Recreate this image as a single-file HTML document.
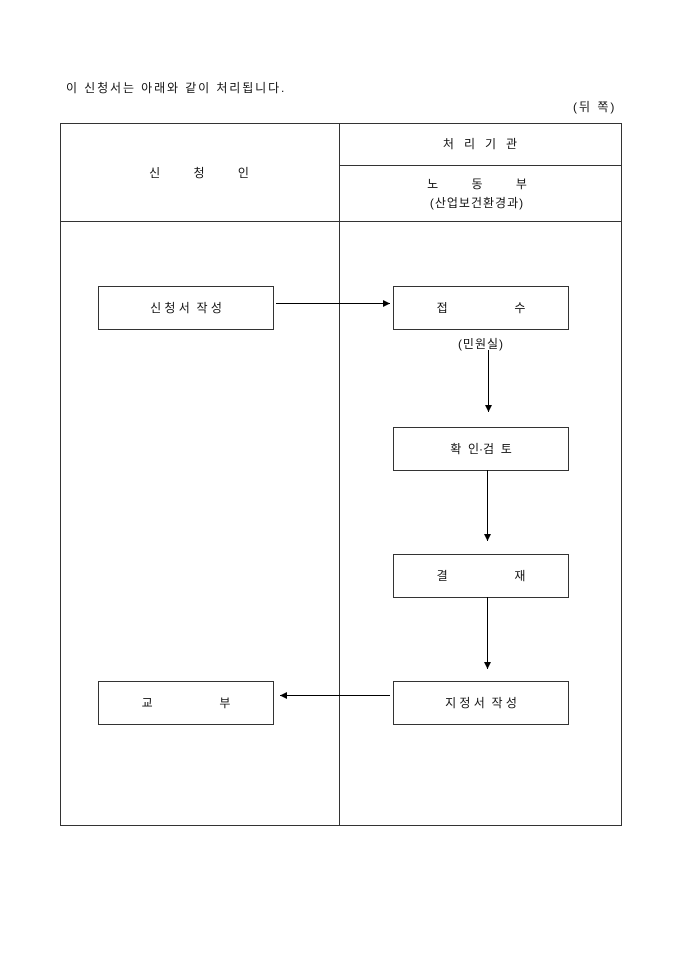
<!DOCTYPE html>
<html><head><meta charset="utf-8"><style>
html,body{margin:0;padding:0;background:#fff;width:680px;height:962px;overflow:hidden}
svg text{font-family:"Liberation Sans","Noto Sans CJK KR",sans-serif;font-size:12px;fill:#111}
</style></head><body>
<svg width="680" height="962" viewBox="0 0 680 962" xmlns="http://www.w3.org/2000/svg">
<defs><marker id="a" markerWidth="8" markerHeight="8" refX="7" refY="4" orient="auto" markerUnits="userSpaceOnUse"><path d="M0,0.5 L7,4 L0,7.5z" fill="#000"/></marker></defs>
<text x="66" y="92" letter-spacing="1.9">이 신청서는 아래와 같이 처리됩니다.</text>
<text x="573" y="111" letter-spacing="2">(뒤 쪽)</text>
<g fill="none" stroke="#333" stroke-width="1">
<rect x="60.5" y="123.5" width="561" height="702"/>
<line x1="339.5" y1="123" x2="339.5" y2="825"/>
<line x1="60" y1="221.5" x2="621" y2="221.5"/>
<line x1="339" y1="165.5" x2="621" y2="165.5"/>
<rect x="98.5" y="286.5" width="175" height="43"/>
<rect x="393.5" y="286.5" width="175" height="43"/>
<rect x="393.5" y="427.5" width="175" height="43"/>
<rect x="393.5" y="554.5" width="175" height="43"/>
<rect x="393.5" y="681.5" width="175" height="43"/>
<rect x="98.5" y="681.5" width="175" height="43"/>
</g>
<g stroke="#000" stroke-width="1" marker-end="url(#a)">
<line x1="276" y1="303.5" x2="390" y2="303.5"/>
<line x1="488.5" y1="350" x2="488.5" y2="412"/>
<line x1="487.5" y1="470" x2="487.5" y2="541"/>
<line x1="487.5" y1="597" x2="487.5" y2="669"/>
<line x1="390" y1="695.5" x2="280" y2="695.5"/>
</g>
<g text-anchor="middle">
<text x="480" y="148" xml:space="preserve">처   리   기   관</text>
<text x="199" y="177" xml:space="preserve">신          청          인</text>
<text x="477" y="188" xml:space="preserve">노          동          부</text>
<text x="477" y="207" letter-spacing="1">(산업보건환경과)</text>
<text x="186" y="312" xml:space="preserve">신 청 서  작 성</text>
<text x="481" y="312" xml:space="preserve">접                    수</text>
<text x="481" y="348" letter-spacing="1">(민원실)</text>
<text x="481" y="453" xml:space="preserve">확  인·검  토</text>
<text x="481" y="580" xml:space="preserve">결                    재</text>
<text x="481" y="707" xml:space="preserve">지 정 서  작 성</text>
<text x="186" y="707" xml:space="preserve">교                    부</text>
</g>
</svg>
</body></html>
